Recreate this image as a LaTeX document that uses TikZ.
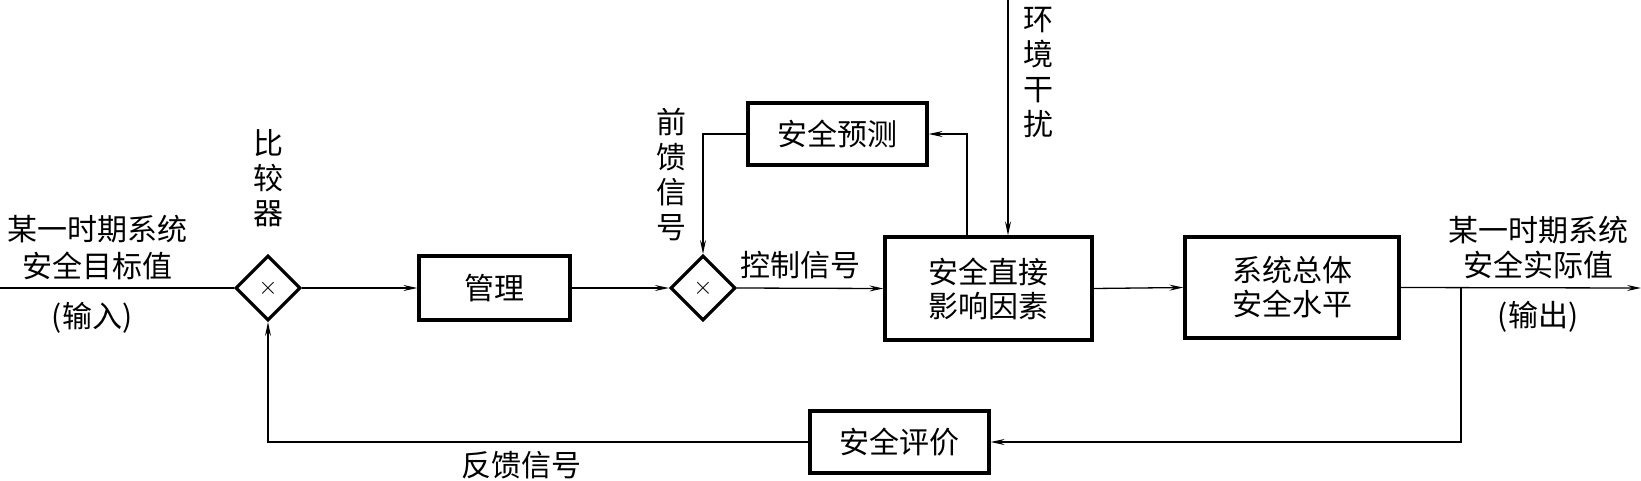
\documentclass[tikz,border=0pt]{standalone}
\usepackage{fontspec}
\newfontfamily\cjk{Noto Sans CJK SC}
\usetikzlibrary{shapes.geometric,arrows.meta}
\tikzset{
  box/.style={draw, line width=3.2pt, inner sep=0pt, align=center, font=\cjk\fontsize{30}{34}\selectfont},
  cmp/.style={draw, shape=diamond, line width=3.2pt, inner sep=0pt, minimum width=65pt, minimum height=65pt, font=\fontsize{28}{28}\selectfont},
  lbl/.style={align=center, inner sep=0pt, font=\cjk\fontsize{30}{35}\selectfont},
  conn/.style={line width=1.3pt},
  arr/.style={conn, -{Stealth[length=14pt,width=6pt,inset=5pt]}}
}
\begin{document}
\begin{tikzpicture}[x=1pt,y=-1pt]
\useasboundingbox (0,0) rectangle (1641,480);
% blocks
\node[box, minimum width=151pt, minimum height=64pt] (guanli) at (494.5,288) {管理};
\node[box, minimum width=179pt, minimum height=62pt] (yuce) at (837.5,134) {安全预测};
\node[box, minimum width=207pt, minimum height=103pt] (zhijie) at (988.5,288.5) {安全直接\\影响因素};
\node[box, minimum width=214pt, minimum height=101pt] (zongti) at (1292,287.5) {系统总体\\安全水平};
\node[box, minimum width=179pt, minimum height=62pt] (pingjia) at (899.5,442) {安全评价};
\node[cmp] (d1) at (268,288) {$\times$};
\node[cmp] (d2) at (703,288) {$\times$};
% labels
\node[lbl] (lcmp) at (268,178) {比\\较\\器};
\node[lbl] (lff) at (671,175) {前\\馈\\信\\号};
\node[lbl] (lctl) at (800,265) {控制信号};
\node[lbl] (lenv) at (1038,72) {环\\境\\干\\扰};
\node[lbl] (lfb) at (521,465) {反馈信号};
\node[lbl, font=\cjk\fontsize{30}{37}\selectfont] (lin) at (98,248) {某一时期系统\\安全目标值};
\node[lbl] (lin2) at (92,318) {(输入)};
\node[lbl] (lout) at (1538,248) {某一时期系统\\安全实际值};
\node[lbl] (lout2) at (1538,317) {(输出)};
% coordinates
\coordinate (in) at (0,288);
\coordinate (out) at (1641,288);
\coordinate (br) at (1461,288);
\coordinate (env) at (1008,0);
% connectors
\draw[conn] (in) -- (d1.west);
\draw[arr] (d1.east) -- (guanli.west);
\draw[arr] (guanli.east) -- (d2.west);
\draw[arr] (d2.east) -- (zhijie.west);
\draw[arr] (zhijie.east) -- (zongti.west);
\draw[arr] (zongti.east) -- (out);
\draw[arr] (br) |- (pingjia.east);
\draw[arr] (pingjia.west) -| (d1.south);
\draw[arr] (env) -- (env |- zhijie.north);
\draw[arr] ([xshift=-21.5pt]zhijie.north) |- (yuce.east);
\draw[arr] (yuce.west) -| (d2.north);
\end{tikzpicture}
\end{document}
